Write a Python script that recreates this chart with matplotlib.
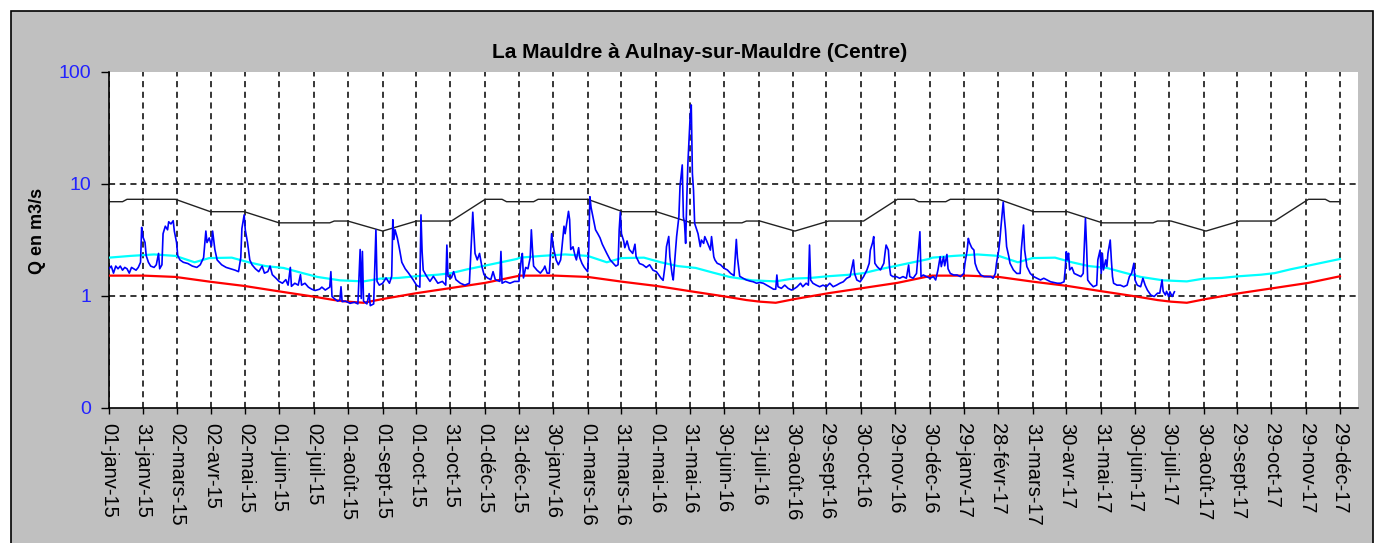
import pandas as pd
import matplotlib
matplotlib.use("Agg")
import matplotlib.pyplot as plt
from matplotlib.patches import Rectangle
from matplotlib.ticker import NullLocator

plt.rcParams['font.family'] = ['Liberation Sans', 'DejaVu Sans']

START = pd.Timestamp("2015-01-01")

# daily flow: (days since 01-janv-15, Q in m3/s)
flow_obs = [
    (0, 1.75), (2, 1.85), (4, 1.6), (6, 1.85), (8, 1.75), (10, 1.85), (12, 1.7), (14, 1.8),
    (16, 1.75), (18, 1.6), (20, 1.8), (22, 1.75), (24, 1.7), (26, 1.8), (28, 2.0), (29, 4.1),
    (30, 3.4), (32, 3.0), (33, 2.3), (35, 2.0), (37, 1.85), (40, 1.8), (42, 1.9), (44, 2.4),
    (45, 1.75), (47, 1.9), (48, 3.6), (50, 4.2), (52, 3.9), (53, 4.6), (55, 4.4), (57, 4.7),
    (58, 3.8), (60, 3.0), (61, 2.3), (63, 2.1), (66, 2.0), (70, 1.95), (74, 1.85), (78, 1.8),
    (81, 1.9), (84, 2.2), (86, 3.8), (87, 3.0), (89, 3.3), (91, 2.8), (92, 3.8), (94, 2.6),
    (96, 2.1), (100, 1.9), (104, 1.8), (108, 1.75), (112, 1.7), (115, 1.65), (117, 2.2), (118, 4.0),
    (120, 5.3), (121, 3.9), (123, 3.0), (125, 2.1), (127, 1.9), (130, 1.75), (133, 1.65), (136, 1.85),
    (138, 1.6), (141, 1.65), (143, 1.85), (145, 1.55), (148, 1.45), (151, 1.35), (154, 1.3), (157, 1.4),
    (159, 1.25), (161, 1.8), (162, 1.22), (165, 1.3), (168, 1.25), (170, 1.55), (171, 1.25), (174, 1.3),
    (177, 1.2), (180, 1.15), (183, 1.12), (187, 1.15), (189, 1.2), (192, 1.13), (196, 1.2), (197, 1.65),
    (198, 0.99), (200, 0.95), (203, 0.9), (205, 0.92), (206, 1.21), (207, 0.89), (210, 0.9), (214, 0.86),
    (218, 0.88), (221, 0.85), (223, 2.6), (224, 0.95), (225, 2.5), (226, 0.9), (229, 0.85), (231, 1.05),
    (232, 0.82), (235, 0.85), (237, 3.9), (238, 1.35), (240, 1.25), (243, 1.3), (246, 1.45), (249, 1.3),
    (251, 1.5), (252, 4.8), (253, 3.2), (254, 3.9), (256, 3.3), (258, 2.6), (260, 2.0), (263, 1.75),
    (266, 1.6), (270, 1.4), (273, 1.25), (276, 1.2), (277, 5.3), (278, 2.5), (279, 1.7), (282, 1.5),
    (285, 1.35), (288, 1.5), (292, 1.3), (296, 1.35), (299, 1.25), (300, 2.85), (301, 1.5), (304, 1.45),
    (306, 1.65), (308, 1.4), (312, 1.3), (316, 1.25), (320, 1.3), (323, 5.6), (325, 2.4), (327, 2.1),
    (329, 2.4), (331, 1.85), (333, 1.55), (336, 1.45), (339, 1.4), (341, 1.65), (343, 1.4), (347, 1.35),
    (348, 2.5), (349, 1.3), (352, 1.35), (356, 1.3), (360, 1.35), (364, 1.35), (366, 2.1), (367, 2.4),
    (368, 1.45), (370, 1.8), (372, 1.75), (374, 2.2), (375, 3.9), (376, 2.6), (377, 1.85), (380, 1.7),
    (383, 1.6), (386, 1.75), (387, 1.85), (389, 1.6), (391, 1.6), (393, 3.6), (395, 2.6), (397, 2.1),
    (399, 1.9), (401, 2.1), (402, 2.6), (404, 4.2), (405, 3.6), (406, 4.2), (408, 5.7), (409, 4.8),
    (410, 2.6), (412, 2.75), (414, 2.25), (415, 2.1), (417, 2.7), (418, 2.2), (420, 1.95), (422, 1.8),
    (424, 1.7), (425, 1.65), (426, 2.7), (427, 7.7), (428, 6.2), (430, 4.9), (432, 3.9), (434, 3.6),
    (436, 3.3), (438, 2.9), (442, 2.4), (445, 2.1), (448, 1.95), (450, 1.85), (452, 1.9), (453, 3.9),
    (454, 5.6), (455, 3.6), (457, 3.1), (458, 2.7), (460, 3.1), (462, 2.6), (465, 2.4), (467, 2.9),
    (468, 2.25), (471, 1.95), (474, 1.9), (477, 1.8), (480, 1.9), (483, 1.7), (486, 1.65), (488, 1.55),
    (490, 1.45), (492, 1.38), (494, 1.96), (495, 2.76), (497, 3.4), (498, 2.24), (500, 1.55), (501, 1.39),
    (503, 2.57), (504, 3.4), (506, 5.1), (507, 9.5), (509, 14.8), (510, 5.1), (511, 4.45), (512, 2.95),
    (513, 7.2), (514, 15.3), (515, 24.7), (516, 39.8), (517, 50.8), (518, 12.4), (519, 8.8), (520, 4.45),
    (522, 3.88), (523, 3.6), (525, 2.76), (526, 3.16), (528, 2.95), (529, 3.39), (531, 3.05), (534, 2.57),
    (535, 3.39), (537, 2.24), (538, 2.1), (540, 1.96), (543, 1.9), (546, 1.77), (549, 1.71), (552, 1.59),
    (555, 1.52), (557, 3.2), (558, 2.2), (560, 1.5), (563, 1.44), (566, 1.39), (569, 1.36), (572, 1.34),
    (575, 1.3), (578, 1.32), (581, 1.3), (584, 1.25), (587, 1.2), (590, 1.15), (592, 1.15), (593, 1.54),
    (594, 1.21), (597, 1.17), (600, 1.25), (603, 1.17), (606, 1.13), (609, 1.17), (611, 1.21), (614, 1.3),
    (616, 1.21), (619, 1.3), (621, 1.25), (622, 2.85), (623, 1.39), (625, 1.3), (628, 1.25), (631, 1.21),
    (634, 1.25), (637, 1.21), (640, 1.3), (643, 1.21), (646, 1.25), (649, 1.3), (652, 1.34), (655, 1.44),
    (658, 1.49), (661, 2.1), (662, 1.59), (664, 1.39), (667, 1.34), (670, 1.49), (673, 1.71), (675, 1.96),
    (676, 2.57), (678, 3.0), (679, 3.39), (680, 1.96), (682, 1.83), (685, 1.71), (688, 1.96), (689, 2.4),
    (690, 2.85), (692, 2.57), (693, 1.83), (694, 1.54), (696, 1.49), (699, 1.49), (702, 1.44), (705, 1.49),
    (708, 1.44), (710, 1.89), (711, 1.49), (714, 1.44), (717, 1.59), (718, 2.1), (720, 3.75), (721, 1.49),
    (723, 1.54), (726, 1.49), (729, 1.44), (732, 1.49), (734, 1.39), (736, 1.7), (737, 1.96), (738, 2.24),
    (739, 1.83), (741, 2.24), (742, 1.86), (744, 2.35), (745, 1.75), (747, 1.59), (750, 1.54), (753, 1.54),
    (756, 1.49), (759, 1.59), (760, 1.96), (762, 2.57), (763, 3.27), (764, 3.0), (766, 2.7), (768, 2.57),
    (769, 1.96), (771, 1.71), (774, 1.54), (777, 1.49), (780, 1.49), (783, 1.49), (785, 1.44), (787, 1.59),
    (788, 1.96), (790, 2.57), (791, 3.16), (792, 4.16), (793, 5.3), (794, 6.9), (795, 5.0), (796, 3.9),
    (797, 2.76), (799, 2.24), (800, 1.96), (803, 1.71), (806, 1.59), (809, 1.59), (810, 2.57), (812, 4.3),
    (813, 2.57), (815, 1.83), (818, 1.59), (821, 1.49), (824, 1.44), (827, 1.39), (830, 1.44), (833, 1.39),
    (836, 1.34), (839, 1.32), (842, 1.3), (845, 1.3), (848, 1.34), (849, 1.71), (850, 2.49), (851, 2.1),
    (852, 2.41), (853, 1.71), (855, 1.8), (857, 1.59), (860, 1.54), (863, 1.49), (865, 1.59), (867, 4.94),
    (868, 2.76), (869, 1.39), (871, 1.3), (874, 1.21), (877, 1.25), (878, 2.1), (880, 2.57), (881, 1.59),
    (882, 2.41), (883, 1.71), (885, 2.1), (886, 1.83), (887, 2.41), (889, 3.16), (890, 2.1), (891, 1.49),
    (892, 1.3), (895, 1.25), (898, 1.25), (901, 1.21), (904, 1.25), (906, 1.49), (908, 1.59), (910, 1.96),
    (911, 1.39), (913, 1.25), (916, 1.21), (918, 1.44), (920, 1.25), (922, 1.13), (925, 1.02), (928, 0.99),
    (931, 1.06), (933, 1.06), (935, 1.39), (936, 1.1), (938, 1.02), (939, 1.1), (941, 0.99), (942, 1.09),
    (944, 0.99), (946, 1.09),
]

# reference curves, same every year: (month, day, Q in m3/s)
upper_curve = [
    (1, 1, 6.95), (1, 13, 6.95), (1, 17, 7.3), (3, 1, 7.3), (4, 1, 5.66), (5, 1, 5.66),
    (6, 1, 4.5), (7, 16, 4.5), (7, 20, 4.67), (8, 1, 4.67), (9, 1, 3.8), (10, 1, 4.67),
    (11, 1, 4.67), (12, 1, 7.3), (12, 16, 7.3), (12, 20, 6.95), (12, 29, 6.95),
]
median_curve = [
    (1, 1, 2.2), (1, 20, 2.28), (2, 10, 2.35), (3, 1, 2.28), (3, 18, 2.0), (3, 31, 2.18),
    (4, 20, 2.2), (5, 5, 2.0), (5, 20, 1.85), (6, 5, 1.78), (6, 20, 1.62), (7, 5, 1.48),
    (7, 25, 1.38), (8, 15, 1.35), (8, 30, 1.43), (9, 15, 1.45), (9, 30, 1.5), (10, 20, 1.55),
    (11, 1, 1.6), (11, 15, 1.73), (11, 29, 1.85), (12, 15, 2.0), (12, 29, 2.14),
]
low_curve = [
    (1, 1, 1.52), (2, 1, 1.52), (3, 1, 1.48), (4, 1, 1.34), (5, 1, 1.23), (6, 1, 1.1),
    (7, 1, 0.99), (7, 20, 0.92), (8, 1, 0.89), (8, 15, 0.87), (9, 1, 0.94), (10, 1, 1.06),
    (11, 1, 1.18), (12, 1, 1.31), (12, 29, 1.5),
]
years = [2015, 2016, 2017]
curve_end = pd.Timestamp("2017-12-29")

tick_dates = [
    "2015-01-01", "2015-01-31", "2015-03-02", "2015-04-02", "2015-05-02", "2015-06-01",
    "2015-07-02", "2015-08-01", "2015-09-01", "2015-10-01", "2015-10-31", "2015-12-01",
    "2015-12-31", "2016-01-30", "2016-03-01", "2016-03-31", "2016-05-01", "2016-05-31",
    "2016-06-30", "2016-07-31", "2016-08-30", "2016-09-29", "2016-10-30", "2016-11-29",
    "2016-12-30", "2017-01-29", "2017-02-28", "2017-03-31", "2017-04-30", "2017-05-31",
    "2017-06-30", "2017-07-30", "2017-08-30", "2017-09-29", "2017-10-29", "2017-11-29",
    "2017-12-29",
]
tick_labels = [
    "01-janv-15", "31-janv-15", "02-mars-15", "02-avr-15", "02-mai-15", "01-juin-15",
    "02-juil-15", "01-août-15", "01-sept-15", "01-oct-15", "31-oct-15", "01-déc-15",
    "31-déc-15", "30-janv-16", "01-mars-16", "31-mars-16", "01-mai-16", "31-mai-16",
    "30-juin-16", "31-juil-16", "30-août-16", "29-sept-16", "30-oct-16", "29-nov-16",
    "30-déc-16", "29-janv-17", "28-févr-17", "31-mars-17", "30-avr-17", "31-mai-17",
    "30-juin-17", "30-juil-17", "30-août-17", "29-sept-17", "29-oct-17", "29-nov-17",
    "29-déc-17",
]
y_ticks = [0.1, 1, 10, 100]
y_labels = ["0", "1", "10", "100"]
grid_levels = [1, 10]


def yearly(profile):
    dates, vals = [], []
    for yr in years:
        for m, d, v in profile:
            dates.append(pd.Timestamp(yr, m, d))
            vals.append(v)
    s = pd.Series(vals, index=dates)
    return s[s.index <= curve_end]


flow = pd.Series([v for _, v in flow_obs],
                 index=START + pd.to_timedelta([d for d, _ in flow_obs], unit="D"))

W, H = 1379, 543
fig = plt.figure(figsize=(W / 100, H / 100), dpi=100)
fig.patch.set_facecolor("white")
fig.add_artist(Rectangle((11 / W, -0.1), (1373 - 11) / W, (H - 11) / H + 0.1,
                         transform=fig.transFigure, facecolor="#c0c0c0",
                         edgecolor="black", linewidth=1.2, zorder=-10))

ax = fig.add_axes([109 / W, 1 - 408 / H, (1358 - 109) / W, (408 - 72) / H])
ax.set_facecolor("white")
ax.set_yscale("log")
ax.set_ylim(0.1, 100)
ax.set_xlim(START, pd.Timestamp("2018-01-14"))

for lvl in grid_levels:
    ax.axhline(lvl, color="black", linestyle=(0, (4, 3)), linewidth=1.1, zorder=1)
for t in pd.to_datetime(tick_dates):
    ax.axvline(t, color="black", linestyle=(0, (4, 3)), linewidth=1.1, zorder=1)

up = yearly(upper_curve)
med = yearly(median_curve)
low = yearly(low_curve)
ax.plot(up.index, up.values, color="#222222", linewidth=1.0, zorder=2)
ax.plot(med.index, med.values, color="#00ffff", linewidth=1.6, zorder=3)
ax.plot(low.index, low.values, color="#ff0000", linewidth=1.6, zorder=4)
ax.plot(flow.index, flow.values, color="#0000ff", linewidth=1.2, zorder=5)

ax.yaxis.set_minor_locator(NullLocator())
ax.set_yticks(y_ticks)
ax.set_yticklabels(y_labels)
ax.set_xticks(pd.to_datetime(tick_dates))
ax.set_xticklabels(tick_labels, rotation=270, ha="center", va="top")
ax.tick_params(axis="x", direction="out", length=4, width=1, pad=7, labelsize=14.5)
ax.tick_params(axis="y", direction="out", length=6, width=1, pad=7, labelsize=14,
               labelcolor="#2222ff")
ax.xaxis.set_minor_locator(NullLocator())

for side in ("top", "right"):
    ax.spines[side].set_visible(False)
for side in ("left", "bottom"):
    ax.spines[side].set_linewidth(1.2)

fig.text(700 / W, 1 - 52 / H, "La Mauldre à Aulnay-sur-Mauldre (Centre)",
         ha="center", va="center", fontsize=15, fontweight="bold")
fig.text(38 / W, 1 - 231 / H, "Q en m3/s", rotation=90, ha="center", va="center",
         fontsize=13, fontweight="bold")

fig.savefig("out.png", dpi=100)
